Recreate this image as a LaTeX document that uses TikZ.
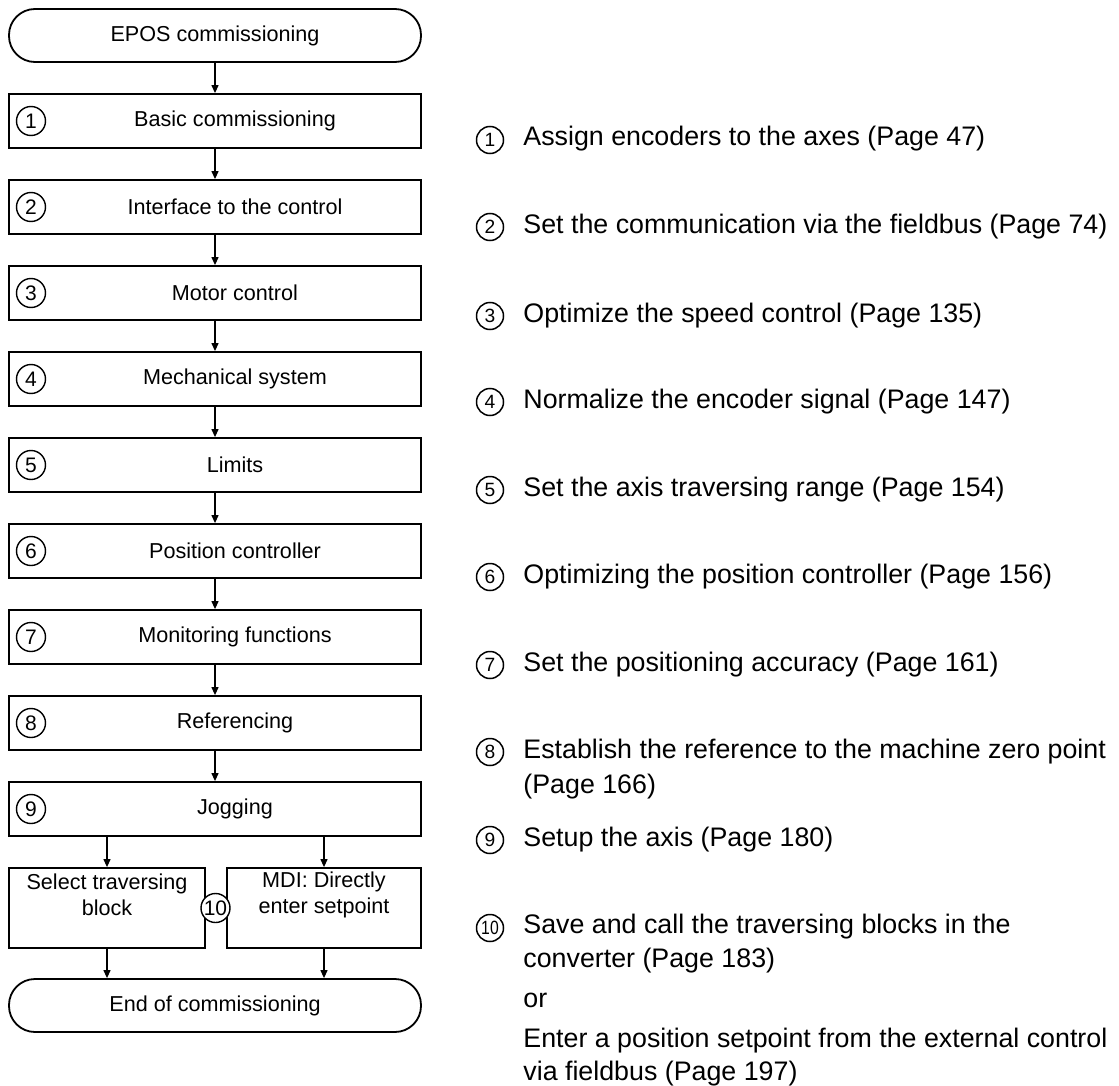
\documentclass[tikz,border=0pt]{standalone}
\usepackage{fontspec}
\setmainfont{Liberation Sans}
\usepackage{graphicx}
\usetikzlibrary{arrows.meta}
\tikzset{
    stepbox/.style={draw, line width=0.9pt, minimum width=206pt, minimum height=27pt, inner sep=0pt},
    splitbox/.style={draw, line width=0.9pt, minimum height=40pt, inner sep=0pt},
    termbox/.style={draw, line width=0.9pt, rounded corners=13pt, minimum width=206pt, minimum height=26.5pt, inner sep=0pt, font=\fontsize{10.8}{13}\selectfont},
    boxtext/.style={inner sep=0pt, font=\fontsize{10.8}{13}\selectfont},
    numcirc/.style={draw, circle, fill=white, line width=0.7pt, minimum size=14.5pt, inner sep=0pt, font=\fontsize{10.5}{12}\selectfont},
    smallcirc/.style={draw, circle, line width=0.75pt, minimum size=13.5pt, inner sep=0pt, font=\fontsize{9.6}{11}\selectfont},
    desc/.style={anchor=base west, inner sep=0pt, font=\fontsize{13.4}{16}\selectfont},
    flow/.style={line width=0.6pt, -{Triangle[length=4pt,width=3.5pt]}},
}

\begin{document}
\begin{tikzpicture}[x=0.5pt, y=-0.5pt]
\useasboundingbox (0,0) rectangle (1119,1086);

% flow chart
\node[termbox] (start) at (215,35.5) {EPOS commissioning};

\node[stepbox] (b1) at (215,121) {};
\node[boxtext] (t1) at (235,121) {Basic commissioning};
\node[numcirc] (n1) at (31,121) {1};

\node[stepbox] (b2) at (215,207) {};
\node[boxtext] (t2) at (235,207) {Interface to the control};
\node[numcirc] (n2) at (31,207) {2};

\node[stepbox] (b3) at (215,293) {};
\node[boxtext] (t3) at (235,293) {Motor control};
\node[numcirc] (n3) at (31,293) {3};

\node[stepbox] (b4) at (215,379) {};
\node[boxtext] (t4) at (235,379) {Mechanical system};
\node[numcirc] (n4) at (31,379) {4};

\node[stepbox] (b5) at (215,465) {};
\node[boxtext] (t5) at (235,465) {Limits};
\node[numcirc] (n5) at (31,465) {5};

\node[stepbox] (b6) at (215,551) {};
\node[boxtext] (t6) at (235,551) {Position controller};
\node[numcirc] (n6) at (31,551) {6};

\node[stepbox] (b7) at (215,637) {};
\node[boxtext] (t7) at (235,637) {Monitoring functions};
\node[numcirc] (n7) at (31,637) {7};

\node[stepbox] (b8) at (215,723) {};
\node[boxtext] (t8) at (235,723) {Referencing};
\node[numcirc] (n8) at (31,723) {8};

\node[stepbox] (b9) at (215,809) {};
\node[boxtext] (t9) at (235,809) {Jogging};
\node[numcirc] (n9) at (31,809) {9};

% two ways after jogging
\node[splitbox, minimum width=98pt] (selbox) at (107,908) {};
\node[boxtext, align=center] (seltxt) at (107,895) {Select traversing\\block};
\node[splitbox, minimum width=97pt] (mdibox) at (324,908) {};
\node[boxtext, align=center] (mditxt) at (324,895) {MDI: Directly\\enter setpoint};
\node[numcirc] (n10) at (215.5,908) {10};

\node[termbox] (finish) at (215,1005.5) {End of commissioning};

\draw[flow] (start) -- (b1);
\draw[flow] (b1) -- (b2);
\draw[flow] (b2) -- (b3);
\draw[flow] (b3) -- (b4);
\draw[flow] (b4) -- (b5);
\draw[flow] (b5) -- (b6);
\draw[flow] (b6) -- (b7);
\draw[flow] (b7) -- (b8);
\draw[flow] (b8) -- (b9);
\draw[flow] (selbox.north |- b9.south) -- (selbox.north);
\draw[flow] (mdibox.north |- b9.south) -- (mdibox.north);
\draw[flow] (selbox.south) -- (selbox.south |- finish.north);
\draw[flow] (mdibox.south) -- (mdibox.south |- finish.north);

% notes on the right
\node[smallcirc] (c1) at (490,140) {1};
\node[desc] (d1) at (523,146) {Assign encoders to the axes (Page 47)};
\node[smallcirc] (c2) at (490,227) {2};
\node[desc] (d2) at (523,233) {Set the communication via the fieldbus (Page 74)};
\node[smallcirc] (c3) at (490,316) {3};
\node[desc] (d3) at (523,322) {Optimize the speed control (Page 135)};
\node[smallcirc] (c4) at (490,402) {4};
\node[desc] (d4) at (523,408) {Normalize the encoder signal (Page 147)};
\node[smallcirc] (c5) at (490,490) {5};
\node[desc] (d5) at (523,496) {Set the axis traversing range (Page 154)};
\node[smallcirc] (c6) at (490,577) {6};
\node[desc] (d6) at (523,583) {Optimizing the position controller (Page 156)};
\node[smallcirc] (c7) at (490,665) {7};
\node[desc] (d7) at (523,671) {Set the positioning accuracy (Page 161)};
\node[smallcirc] (c8) at (490,752) {8};
\node[desc] (d8) at (523,758) {Establish the reference to the machine zero point};
\node[desc] (d8b) at (523,793) {(Page 166)};
\node[smallcirc] (c9) at (490,840) {9};
\node[desc] (d9) at (523,846) {Setup the axis (Page 180)};
\node[smallcirc] (c10) at (490,928) {\scalebox{0.82}[1]{10}};
\node[desc] (d10) at (523,933) {Save and call the traversing blocks in the};
\node[desc] (d10b) at (523,967) {converter (Page 183)};
\node[desc] (d10or) at (523,1007) {or};
\node[desc] (d10c) at (523,1047) {Enter a position setpoint from the external control};
\node[desc] (d10d) at (523,1080) {via fieldbus (Page 197)};
\end{tikzpicture}
\end{document}
